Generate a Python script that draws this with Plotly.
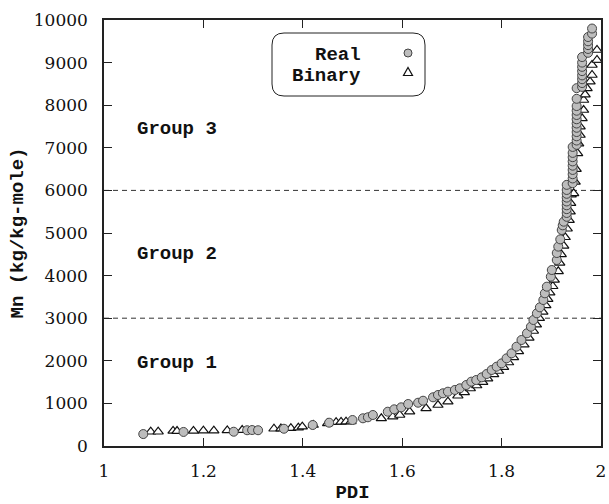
import plotly.graph_objects as go

# ---- data ----
real_pdi = [1.079, 1.160, 1.261, 1.288, 1.298, 1.310, 1.362, 1.420, 1.453, 1.500,
            1.521, 1.531, 1.541, 1.571, 1.584, 1.598, 1.612, 1.632, 1.642, 1.662,
            1.672, 1.682, 1.692, 1.706, 1.716, 1.729, 1.739, 1.749, 1.760, 1.770,
            1.780, 1.790, 1.800, 1.810, 1.820, 1.830, 1.840, 1.851, 1.859, 1.864,
            1.871, 1.877, 1.884, 1.887, 1.891, 1.899, 1.901, 1.911, 1.911, 1.914,
            1.918, 1.921, 1.923, 1.925,
            1.931, 1.931, 1.931, 1.931, 1.931, 1.931, 1.931, 1.931, 1.931,
            1.943, 1.943, 1.943, 1.943, 1.943, 1.943, 1.943, 1.943, 1.943,
            1.951, 1.951, 1.951, 1.951, 1.951, 1.951, 1.951, 1.951, 1.951, 1.951, 1.951, 1.951,
            1.962, 1.962, 1.962, 1.962, 1.962, 1.962, 1.962, 1.962,
            1.974, 1.974, 1.974, 1.974, 1.974,
            1.982, 1.982]
real_mn = [280, 330, 335, 370, 375, 370, 405, 493, 547, 610,
           650, 674, 728, 805, 861, 908, 986, 1016, 1063, 1143,
           1197, 1237, 1275, 1315, 1354, 1432, 1510, 1549, 1612, 1690,
           1784, 1862, 1940, 2058, 2175, 2331, 2488, 2645, 2800, 2958,
           3114, 3255, 3427, 3584, 3740, 3975, 4131, 4366, 4530, 4680,
           4850, 5070, 5180, 5265,
           5380, 5470, 5560, 5650, 5740, 5830, 5920, 6010, 6130,
           6170, 6280, 6380, 6480, 6580, 6680, 6780, 6880, 7020,
           7070, 7170, 7270, 7370, 7470, 7570, 7670, 7770, 7870, 7980, 8150, 8400,
           8430, 8520, 8610, 8700, 8800, 8900, 9000, 9130,
           9230, 9320, 9410, 9500, 9600,
           9680, 9800]

binary_pdi = [1.094, 1.109, 1.139, 1.147, 1.180, 1.200, 1.221, 1.248, 1.278, 1.342,
              1.356, 1.376, 1.391, 1.399, 1.421, 1.450, 1.467, 1.477, 1.487, 1.497,
              1.558, 1.581, 1.595, 1.615, 1.648, 1.672, 1.692, 1.712, 1.725, 1.737,
              1.750, 1.762, 1.772, 1.784, 1.794, 1.804, 1.814, 1.824, 1.834, 1.845,
              1.855, 1.864, 1.870, 1.876, 1.883, 1.889, 1.893, 1.897, 1.903, 1.906,
              1.914, 1.917, 1.920, 1.925, 1.928, 1.932, 1.936, 1.938, 1.939, 1.940,
              1.945, 1.948, 1.950, 1.953, 1.955, 1.958, 1.958, 1.962, 1.965, 1.965,
              1.968, 1.972, 1.978, 1.982, 1.982, 1.992, 1.992]
binary_mn = [335, 335, 355, 350, 355, 360, 360, 365, 375, 405,
             410, 420, 430, 453, 493, 532, 560, 565, 570, 575,
             650, 688, 728, 805, 884, 962, 1040, 1180, 1260, 1350,
             1420, 1500, 1580, 1680, 1760, 1850, 1960, 2080, 2220, 2380,
             2540, 2700, 2850, 3000, 3150, 3300, 3450, 3600, 3750, 3900,
             4100, 4300, 4500, 4700, 4900, 5100, 5300, 5500, 5700, 5900,
             5931, 6200, 6500, 6870, 7100, 7300, 7496, 7692, 7887, 8122,
             8250, 8396, 8552, 8709, 8944, 9061, 9296]

group_bounds = [3000, 6000]
group_labels = ["Group 1", "Group 2", "Group 3"]
group_label_y = [1950, 4500, 7450]

x_ticks = [1, 1.2, 1.4, 1.6, 1.8, 2]
x_tick_text = ["1", "1.2", "1.4", "1.6", "1.8", "2"]
y_ticks = [0, 1000, 2000, 3000, 4000, 5000, 6000, 7000, 8000, 9000, 10000]
y_tick_text = ["0", "1000", "2000", "3000", "4000", "5000", "6000", "7000", "8000", "9000", "10000"]

MONO = "Liberation Mono, DejaVu Sans Mono, monospace"
SERIF = "DejaVu Serif"

fig = go.Figure()

fig.add_trace(go.Scatter(
    x=binary_pdi, y=binary_mn, mode="markers", name="Binary",
    marker=dict(symbol="triangle-up", size=9, color="white",
                line=dict(color="#111111", width=1.2)),
    showlegend=False))
fig.add_trace(go.Scatter(
    x=real_pdi, y=real_mn, mode="markers", name="Real",
    marker=dict(symbol="circle", size=9, color="#bdbdbd",
                line=dict(color="#444444", width=1)),
    showlegend=False))

shapes = []
for b in group_bounds:
    shapes.append(dict(type="line", xref="paper", x0=0, x1=1, yref="y", y0=b, y1=b,
                       line=dict(color="#333333", width=1, dash="5px,4px"), layer="below"))

# rounded legend box (paper coords); plot area ~497 x 426 px
W, H = 497.0, 426.0
def px(x):
    return (x - 104) / W
def py(y):
    return (446 - y) / H
x0, x1, y0, y1 = px(272), px(425), py(33), py(96)
rx, ry = 12 / W, 12 / H
path = (f"M {x0+rx},{y0} L {x1-rx},{y0} Q {x1},{y0} {x1},{y0-ry} "
        f"L {x1},{y1+ry} Q {x1},{y1} {x1-rx},{y1} L {x0+rx},{y1} "
        f"Q {x0},{y1} {x0},{y1+ry} L {x0},{y0-ry} Q {x0},{y0} {x0+rx},{y0} Z")
shapes.append(dict(type="path", xref="paper", yref="paper", path=path,
                   fillcolor="white", line=dict(color="#222222", width=1)))
# legend keys
cr = 4
shapes.append(dict(type="circle", xref="paper", yref="paper",
                   x0=px(408 - cr), x1=px(408 + cr), y0=py(53 + cr), y1=py(53 - cr),
                   fillcolor="#bdbdbd", line=dict(color="#444444", width=1)))
tri = (f"M {px(403.5)},{py(75.5)} L {px(412.5)},{py(75.5)} L {px(408)},{py(67.5)} Z")
shapes.append(dict(type="path", xref="paper", yref="paper", path=tri,
                   fillcolor="white", line=dict(color="#111111", width=1.2)))

TXT = dict(family=MONO, size=19, color="#111111", weight="bold")
annotations = []
for lab, yy in zip(group_labels, group_label_y):
    annotations.append(dict(x=1.062, y=yy, xref="x", yref="y", text=lab, showarrow=False,
                            xanchor="left", yanchor="middle", font=TXT))
annotations.append(dict(x=px(363), y=py(55), xref="paper", yref="paper", text="Real",
                        showarrow=False, xanchor="right", yanchor="middle", font=TXT))
annotations.append(dict(x=px(363), y=py(76), xref="paper", yref="paper", text="Binary",
                        showarrow=False, xanchor="right", yanchor="middle", font=TXT))

axis_common = dict(showline=True, linecolor="#222222", linewidth=1.5, mirror="allticks",
                   ticks="inside", ticklen=8, tickwidth=1, tickcolor="#222222",
                   showgrid=False, zeroline=False, automargin=False,
                   tickfont=dict(family=SERIF, size=17, color="#111111"))

fig.update_layout(
    width=609, height=504,
    margin=dict(l=104, r=8, t=20, b=58),
    plot_bgcolor="white", paper_bgcolor="white",
    shapes=shapes, annotations=annotations,
    xaxis=dict(range=[1, 2], tickvals=x_ticks, ticktext=x_tick_text,
               ticklabelstandoff=9,
               title=dict(text="PDI", standoff=16, font=TXT),
               **axis_common),
    yaxis=dict(range=[0, 10000], tickvals=y_ticks, ticktext=y_tick_text,
               ticklabelstandoff=11,
               title=dict(text="Mn (kg/kg-mole)", standoff=5, font=TXT),
               **axis_common),
)

fig.write_html("out.html")
